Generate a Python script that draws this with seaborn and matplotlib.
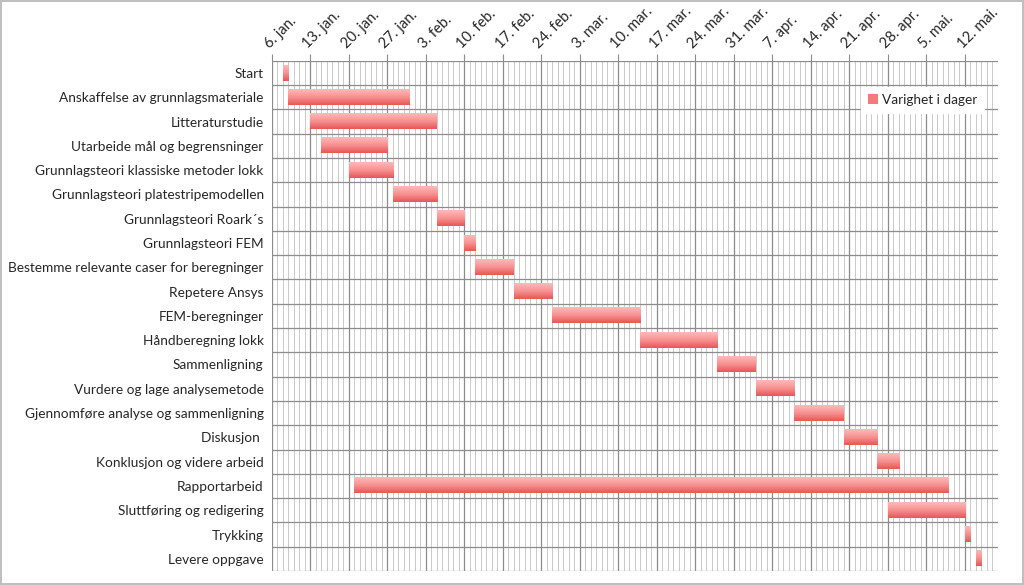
import numpy as np
import pandas as pd
import seaborn as sns
import matplotlib.pyplot as plt
from matplotlib.colors import LinearSegmentedColormap
from matplotlib.patches import Patch

# Data: days counted from 6. jan.
tasks = ['Start', 'Anskaffelse av grunnlagsmateriale', 'Litteraturstudie',
         'Utarbeide mål og begrensninger', 'Grunnlagsteori klassiske metoder lokk',
         'Grunnlagsteori platestripemodellen', 'Grunnlagsteori Roark´s',
         'Grunnlagsteori FEM', 'Bestemme relevante caser for beregninger',
         'Repetere Ansys', 'FEM-beregninger', 'Håndberegning lokk', 'Sammenligning',
         'Vurdere og lage analysemetode', 'Gjennomføre analyse og sammenligning',
         'Diskusjon ', 'Konklusjon og videre arbeid', 'Rapportarbeid',
         'Sluttføring og redigering', 'Trykking', 'Levere oppgave']
start_day = [2, 3, 7, 9, 14, 22, 30, 35, 37, 44, 51, 67, 81, 88, 95, 104, 110, 15, 112, 126, 128]
duration = [1, 22, 23, 12, 8, 8, 5, 2, 7, 7, 16, 14, 7, 7, 9, 6, 4, 108, 14, 1, 1]

week_days = list(range(0, 127, 7))
week_labels = ['6. jan.', '13. jan.', '20. jan.', '27. jan.', '3. feb.', '10. feb.',
               '17. feb.', '24. feb.', '3. mar.', '10. mar.', '17. mar.', '24. mar.',
               '31. mar.', '7. apr.', '14. apr.', '21. apr.', '28. apr.', '5. mai.',
               '12. mai.']
x_end = 132

df = pd.DataFrame({'Oppgave': tasks, 'Start': start_day, 'Varighet': duration})

sns.set_style('white')
plt.rcParams['font.family'] = ['Lato', 'DejaVu Sans']

fig = plt.figure(figsize=(10.24, 5.85), dpi=100)
fig.patch.set_edgecolor('#bfbfbf')
fig.patch.set_linewidth(1.5)
ax = fig.add_axes([0.2656, 0.024, 0.709, 0.872])

sns.barplot(data=df, x='Varighet', y='Oppgave', left=df['Start'], orient='h',
            color='#f27c7c', width=0.62, ax=ax, zorder=3)

# gradient fill on bars
cmap = LinearSegmentedColormap.from_list('bar', ['#ffbaba', '#f69292', '#e85656'])
grad = np.linspace(0, 1, 64).reshape(-1, 1)
for bar in ax.patches:
    x0, y0 = bar.get_x(), bar.get_y()
    w, h = bar.get_width(), bar.get_height()
    bar.set_alpha(0)
    ax.imshow(grad, cmap=cmap, extent=(x0, x0 + w, y0 + h, y0), origin='upper',
              aspect='auto', zorder=4, interpolation='bilinear')

ax.set_xlim(0, x_end)
ax.set_ylim(len(tasks) - 0.5, -0.5)

ax.xaxis.tick_top()
ax.set_xticks(week_days)
ax.set_xticklabels(week_labels, rotation=45, ha='left', va='bottom',
                   rotation_mode='anchor', fontsize=10.5)
ax.set_xticks(np.arange(0, x_end + 1, 1), minor=True)
ax.set_yticks(np.arange(-0.5, len(tasks), 1), minor=True)
ax.tick_params(axis='x', which='major', length=5, color='#8c8c8c', pad=2)
ax.tick_params(axis='x', which='minor', length=0)
ax.tick_params(axis='y', which='both', length=0, labelsize=9.8, pad=6)
for lbl in ax.get_yticklabels():
    lbl.set_verticalalignment('center_baseline')
ax.grid(True, axis='x', which='major', color='#8c8c8c', linewidth=0.9, zorder=1)
ax.grid(True, axis='x', which='minor', color='#cacaca', linewidth=0.7, zorder=1)
ax.grid(True, axis='y', which='minor', color='#8c8c8c', linewidth=0.9, zorder=1)
ax.set_axisbelow(True)
for s in ax.spines.values():
    s.set_visible(False)
ax.set_xlabel('')
ax.set_ylabel('')

handle = Patch(facecolor='#f27c7c', edgecolor='none')
leg = ax.legend([handle], ['Varighet i dager'], loc='upper right',
                bbox_to_anchor=(0.99, 0.962), frameon=True, fancybox=False,
                framealpha=1, edgecolor='white', fontsize=9.8,
                handlelength=0.7, handleheight=0.7, handletextpad=0.3,
                borderpad=0.5)
leg.set_zorder(10)

fig.savefig('out.png', dpi=100)
